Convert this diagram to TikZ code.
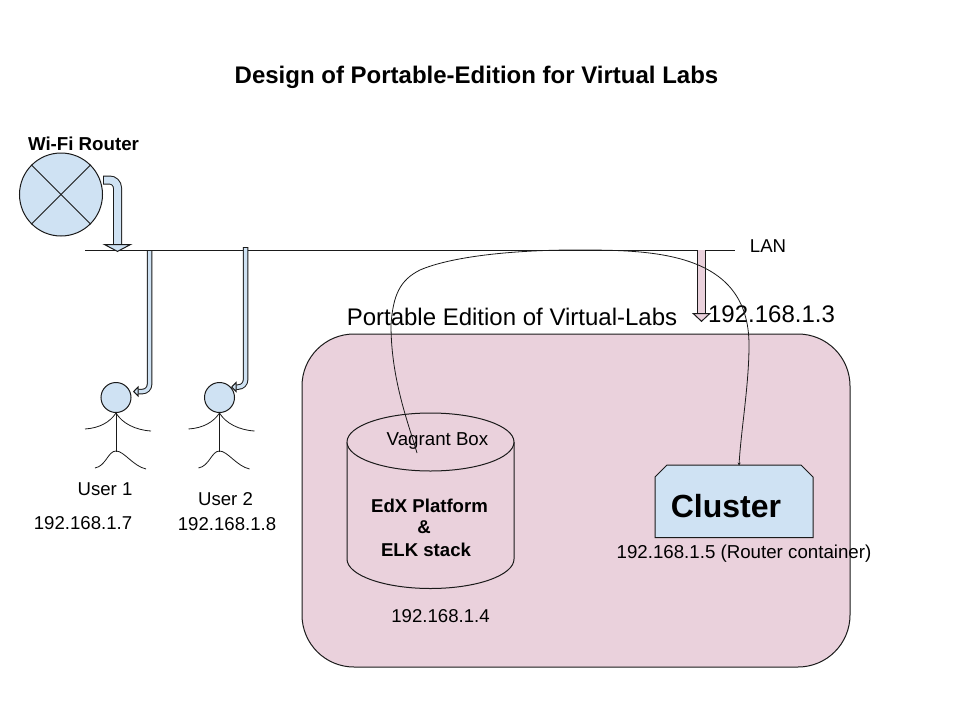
\documentclass[tikz,border=0pt]{standalone}
\usepackage{fontspec}
\setmainfont{Liberation Sans}
\usetikzlibrary{arrows.meta,calc}
\definecolor{paleblue}{HTML}{CFE2F3}
\definecolor{palepink}{HTML}{EAD1DC}
\definecolor{ink}{HTML}{1A1A1A}
\tikzset{
  line/.style={draw=ink,line width=1pt},
  lbl/.style={inner sep=0pt,text=black,font=\fontsize{#1}{#1}\selectfont},
  blbl/.style={inner sep=0pt,text=black,font=\fontsize{#1}{#1}\selectfont\bfseries},
  blockarrow/.style={draw=ink,line width=1pt,double=paleblue,double distance=7pt,rounded corners=8pt,
    -{Triangle[length=8pt,width=30pt,fill=paleblue,line width=1pt]}},
  dropblock/.style={draw=ink,line width=1pt,double=palepink,double distance=7.5pt,
    -{Triangle[length=9pt,width=19pt,fill=palepink,line width=1pt]}},
  thinblock/.style={draw=ink,line width=1pt,double=#1,double distance=3.5pt,rounded corners=7pt,
    -{Triangle[length=5.5pt,width=11pt,fill=#1,line width=1pt]}},
  personhead/.style={circle,draw=ink,line width=1pt,fill=paleblue,minimum size=30pt,inner sep=0pt},
}
\begin{document}
\begin{tikzpicture}[x=1pt,y=-1pt]
\useasboundingbox (0,0) rectangle (960,720);
% panel
\node[line,fill=palepink,rounded corners=52pt,minimum width=548pt,minimum height=333pt,inner sep=0pt] (panel) at (576,500.5) {};
% title
\node[blbl=24] (title) at (476.5,77) {Design of Portable-Edition for Virtual Labs};
% router
\node[blbl=18.7] (wifilabel) at (83.5,144) {Wi-Fi Router};
\node[circle,line,fill=paleblue,minimum size=83pt,inner sep=0pt] (wifi) at (61,194.5) {};
\draw[line] (wifi.45) -- (wifi.225);
\draw[line] (wifi.135) -- (wifi.315);
% LAN
\node[lbl=18.6] (lanlabel) at (768,246) {LAN};
\coordinate (lanleft) at (85,250);
\coordinate (lanright) at (735,250);
\draw[line] (lanleft) -- (lanright);
% block arrows
\coordinate (routerout) at (103,180);
\coordinate (routerin) at (117.5,252);
\draw[blockarrow] (routerout) -| (routerin);
\draw[line] (103,176) -- (103,184);
% users
\node[personhead] (head1) at (116,397.5) {};
\node[personhead] (head2) at (219.5,397.5) {};
\foreach \h/\dx in {head1/0,head2/103.5}{
  \begin{scope}[xshift=\dx pt]
  \draw[line,line width=.8pt] (\h.south) -- (116,452);
  \draw[line,line width=.8pt] (85,429) .. controls (100,428) and (110,422) .. (\h.south);
  \draw[line,line width=.8pt] (151,431) .. controls (135,430) and (122,423) .. (\h.south);
  \draw[line,line width=.8pt] (95,468) .. controls (106,466) and (108,451) .. (116,451) .. controls (124,451) and (133,466) .. (146,469);
  \end{scope}
}
\coordinate (u1top) at (149.5,250);
\coordinate (u1tip) at (133,391.5);
\coordinate (u2top) at (245.5,247);
\coordinate (u2tip) at (231,387);
\draw[thinblock=paleblue] (u1top) |- (u1tip);
\draw[line] (147,250) -- (152,250);
\draw[thinblock=paleblue] (u2top) |- (u2tip);
\draw[line] (243,247) -- (248,247);
\node[lbl=18.6] (u1name) at (105,489) {User 1};
\node[lbl=18.6] (u2name) at (225.5,499) {User 2};
\node[lbl=18.6] (u1ip) at (83,523) {192.168.1.7};
\node[lbl=18.6] (u2ip) at (227,524) {192.168.1.8};
% LAN drop
\coordinate (droptop) at (701.5,250);
\coordinate (droptip) at (701.5,322);
\draw[dropblock] (droptop) -- (droptip);
\node[lbl=24] (panellabel) at (512,316.5) {Portable Edition of Virtual-Labs};
\node[lbl=24] (lanip) at (771.5,314) {192.168.1.3};
% cylinder
\coordinate (cyltop) at (430.5,442);
\coordinate (cylbot) at (430.5,559);
\draw[line,fill=palepink] (347,442) -- (347,559) arc[start angle=180,end angle=0,x radius=83.5,y radius=29.5] -- (514,442);
\draw[line,fill=palepink] (cyltop) ellipse[x radius=83.5,y radius=29];
\node[lbl=18.7] (vagrant) at (437.5,441) {Vagrant Box};
\node[blbl=18.6] (edx) at (429.5,505.5) {EdX Platform};
\node[blbl=18.6] (amp) at (424,527.5) {\&};
\node[blbl=18.6] (elk) at (426,549.5) {ELK stack};
\node[lbl=18.6] (cylip) at (440.5,616) {192.168.1.4};
% cluster
\draw[line,fill=paleblue] (655,477) -- (667,465) -- (801,465) -- (813,477) -- (813,537.5) -- (655,537.5) -- cycle;
\node[blbl=32] (clusterlabel) at (726,506) {Cluster};
\node[lbl=18.7] (clusterip) at (744,554) {192.168.1.5 (Router container)};
% curve
\coordinate (curvestart) at (417,453);
\coordinate (curveend) at (739,465.5);
\draw[line,line width=.8pt,-{Stealth[length=3pt,width=3pt]}] (curvestart) .. controls (409,425) and (391,380) .. (391,325) .. controls (393,295) and (400,280) .. (420,270) .. controls (450,257) and (510,250) .. (575,250) .. controls (650,250) and (749,250) .. (749,345) .. controls (749,385) and (741,430) .. (curveend);
\end{tikzpicture}
\end{document}
